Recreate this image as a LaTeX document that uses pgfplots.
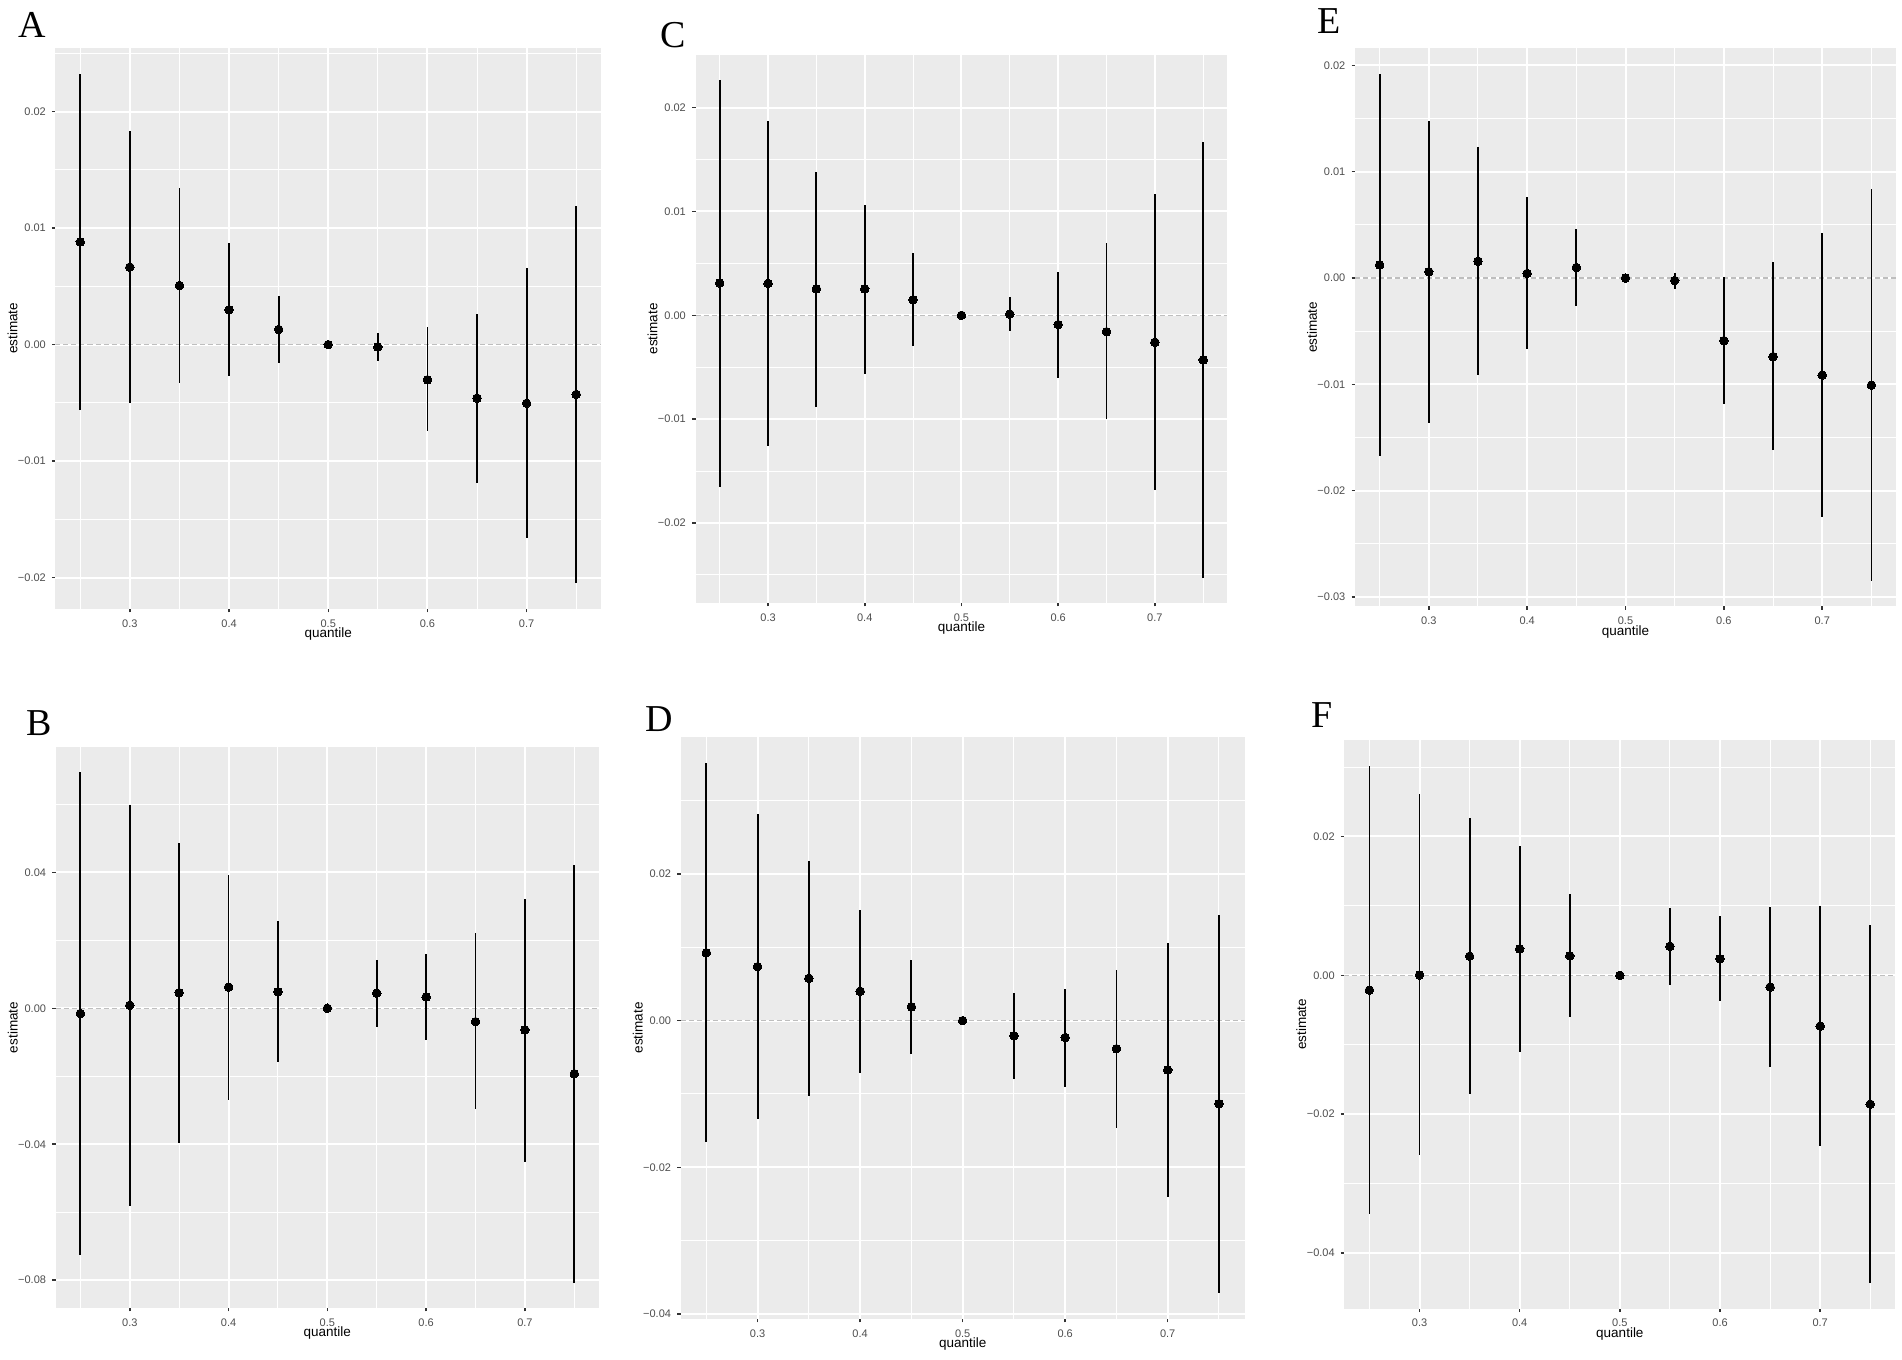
\documentclass[border=0pt]{standalone}
\usepackage{pgfplots}
\pgfplotsset{compat=1.18}
\usepackage{pgfplotstable}
\usepackage{fontspec}
\setmainfont{Liberation Sans}
\newfontfamily\serifletter{Liberation Serif}
\definecolor{ggbg}{HTML}{EBEBEB}
\definecolor{ggtick}{HTML}{333333}
\definecolor{ggtext}{HTML}{4D4D4D}
\definecolor{ggdash}{HTML}{BEBEBE}
\newcommand{\tf}{\fontsize{11}{13}\selectfont}
\newcommand{\labfont}{\fontsize{13.5}{16}\selectfont}

\pgfplotstableread{
q e l h
0.25 0.00881 -0.00565 0.02324
0.30 0.00665 -0.00500 0.01831
0.35 0.00507 -0.00331 0.01345
0.40 0.00299 -0.00270 0.00871
0.45 0.00130 -0.00158 0.00414
0.50 0 0 0
0.55 -0.00020 -0.00144 0.00100
0.60 -0.00302 -0.00745 0.00147
0.65 -0.00460 -0.01190 0.00266
0.70 -0.00504 -0.01658 0.00655
0.75 -0.00428 -0.02050 0.01194
}\tabA
\pgfplotstableread{
q e l h
0.25 0.00311 -0.01650 0.02269
0.30 0.00307 -0.01254 0.01869
0.35 0.00255 -0.00882 0.01383
0.40 0.00255 -0.00562 0.01060
0.45 0.00150 -0.00300 0.00603
0.50 0 0 0
0.55 0.00012 -0.00150 0.00174
0.60 -0.00089 -0.00600 0.00421
0.65 -0.00158 -0.01003 0.00692
0.70 -0.00259 -0.01683 0.01165
0.75 -0.00429 -0.02532 0.01670
}\tabC
\pgfplotstableread{
q e l h
0.25 0.00123 -0.01672 0.01917
0.30 0.00059 -0.01364 0.01478
0.35 0.00158 -0.00913 0.01233
0.40 0.00043 -0.00668 0.00759
0.45 0.00099 -0.00265 0.00458
0.50 0 0 0
0.55 -0.00024 -0.00107 0.00047
0.60 -0.00589 -0.01182 0.00008
0.65 -0.00739 -0.01617 0.00146
0.70 -0.00913 -0.02245 0.00419
0.75 -0.01008 -0.02854 0.00838
}\tabE
\pgfplotstableread{
q e l h
0.25 -0.00153 -0.0726 0.0694
0.30 0.00089 -0.0582 0.0598
0.35 0.00460 -0.0395 0.0487
0.40 0.00625 -0.0270 0.0393
0.45 0.00485 -0.0158 0.0256
0.50 0 0 0
0.55 0.00446 -0.00536 0.01416
0.60 0.00332 -0.00931 0.01594
0.65 -0.00395 -0.0297 0.0221
0.70 -0.00638 -0.0453 0.0323
0.75 -0.01926 -0.0807 0.0423
}\tabB
\pgfplotstableread{
q e l h
0.25 0.00926 -0.01658 0.03510
0.30 0.00737 -0.01339 0.02814
0.35 0.00578 -0.01027 0.02183
0.40 0.00401 -0.00708 0.01504
0.45 0.00189 -0.00454 0.00832
0.50 0 0 0
0.55 -0.00206 -0.00802 0.00383
0.60 -0.00230 -0.00909 0.00437
0.65 -0.00383 -0.01463 0.00696
0.70 -0.00673 -0.02401 0.01056
0.75 -0.01133 -0.03711 0.01445
}\tabD
\pgfplotstableread{
q e l h
0.25 -0.00213 -0.03438 0.03019
0.30 0.00006 -0.02588 0.02606
0.35 0.00275 -0.01713 0.02263
0.40 0.00381 -0.01100 0.01869
0.45 0.00281 -0.00600 0.01175
0.50 0 0 0
0.55 0.00419 -0.00138 0.00975
0.60 0.00238 -0.00375 0.00856
0.65 -0.00169 -0.01313 0.00988
0.70 -0.00731 -0.02456 0.00994
0.75 -0.01856 -0.04431 0.00731
}\tabF

\pgfplotsset{
  ggpanel/.style={
    scale only axis,
    anchor=south west,
    xmin=0.225, xmax=0.775,
    xtick={0.3,0.4,0.5,0.6,0.7},
    xticklabels={\tf 0.3,\tf 0.4,\tf 0.5,\tf 0.6,\tf 0.7},
    minor xtick={0.25,0.35,0.45,0.55,0.65,0.75},
    scaled y ticks=false, scaled x ticks=false,
    axis background/.style={fill=ggbg},
    axis line style={draw=none},
    grid=both,
    major grid style={white, line width=2pt},
    minor grid style={white, line width=1pt},
    tick align=outside,
    tick pos=left,
    major tick length=3.5pt,
    minor tick length=0pt,
    tick style={ggtick, line width=1.5pt},
    every x tick label/.style={font=\tf, text=ggtext, anchor=center, yshift=-11pt, inner sep=0pt},
    every y tick label/.style={font=\tf, text=ggtext, anchor=east, xshift=-6pt, inner sep=0pt},
    xlabel={quantile}, ylabel={estimate},
    every axis x label/.style={font=\labfont, text=black, at={(axis description cs:0.5,0)}, anchor=center, yshift=-25.5pt},
    every axis y label/.style={font=\labfont, text=black, at={(axis description cs:0,0.5)}, anchor=center, xshift=-43pt, rotate=90},
  },
  zeroline/.style={ggdash, line width=1.1pt, dash pattern=on 5pt off 3pt},
  pr/.style={only marks, mark=*, mark size=4.3pt, black, mark options={fill=black, draw=black, line width=0pt},
    error bars/.cd, y dir=both, y explicit, error mark=none, error bar style={line width=1.8pt, black}},
  table/prt/.style={x=q, y=e, y error plus expr=\thisrow{h}-\thisrow{e}, y error minus expr=\thisrow{e}-\thisrow{l}},
}

\begin{document}
\begin{tikzpicture}[x=1pt,y=1pt]
\path[use as bounding box] (0,0) rectangle (1902,1359);

% A
\begin{axis}[ggpanel, at={(55.5pt,750pt)}, width=545.5pt, height=561.4pt,
  ymin=-0.0227, ymax=0.0255,
  ytick={-0.02,-0.01,0,0.01,0.02}, yticklabels={\tf −0.02,\tf −0.01,\tf 0.00,\tf 0.01,\tf 0.02},
  minor ytick={-0.015,-0.005,0.005,0.015,0.025}]
\addplot[zeroline] coordinates {(0.225,0) (0.775,0)};
\addplot[pr] table[prt] {\tabA};
\end{axis}

% C
\begin{axis}[ggpanel, at={(695.5pt,756pt)}, width=531.9pt, height=548.3pt,
  ymin=-0.0277, ymax=0.0251,
  ytick={-0.02,-0.01,0,0.01,0.02}, yticklabels={\tf −0.02,\tf −0.01,\tf 0.00,\tf 0.01,\tf 0.02},
  minor ytick={-0.025,-0.015,-0.005,0.005,0.015}]
\addplot[zeroline] coordinates {(0.225,0) (0.775,0)};
\addplot[pr] table[prt] {\tabC};
\end{axis}

% E
\begin{axis}[ggpanel, at={(1355pt,752.5pt)}, width=541pt, height=558.1pt,
  ymin=-0.0309, ymax=0.0216,
  ytick={-0.03,-0.02,-0.01,0,0.01,0.02}, yticklabels={\tf −0.03,\tf −0.02,\tf −0.01,\tf 0.00,\tf 0.01,\tf 0.02},
  minor ytick={-0.025,-0.015,-0.005,0.005,0.015}]
\addplot[zeroline] coordinates {(0.225,0) (0.775,0)};
\addplot[pr] table[prt] {\tabE};
\end{axis}

% B
\begin{axis}[ggpanel, at={(55.7pt,51pt)}, width=543.3pt, height=561pt,
  ymin=-0.0882, ymax=0.0769,
  ytick={-0.08,-0.04,0,0.04}, yticklabels={\tf −0.08,\tf −0.04,\tf 0.00,\tf 0.04},
  minor ytick={-0.06,-0.02,0.02,0.06}]
\addplot[zeroline] coordinates {(0.225,0) (0.775,0)};
\addplot[pr] table[prt] {\tabB};
\end{axis}

% D
\begin{axis}[ggpanel, at={(680.7pt,40pt)}, width=563.9pt, height=582pt,
  ymin=-0.0407, ymax=0.0387,
  ytick={-0.04,-0.02,0,0.02}, yticklabels={\tf −0.04,\tf −0.02,\tf 0.00,\tf 0.02},
  minor ytick={-0.03,-0.01,0.01,0.03}]
\addplot[zeroline] coordinates {(0.225,0) (0.775,0)};
\addplot[pr] table[prt] {\tabD};
\end{axis}

% F
\begin{axis}[ggpanel, at={(1344.4pt,50.4pt)}, width=550.9pt, height=568.6pt,
  ymin=-0.0480, ymax=0.0339,
  ytick={-0.04,-0.02,0,0.02}, yticklabels={\tf −0.04,\tf −0.02,\tf 0.00,\tf 0.02},
  minor ytick={-0.03,-0.01,0.01,0.03}]
\addplot[zeroline] coordinates {(0.225,0) (0.775,0)};
\addplot[pr] table[prt] {\tabF};
\end{axis}

\begin{scope}[every node/.style={anchor=base west, inner sep=0pt, font=\serifletter\fontsize{38}{40}\selectfont}]
\node at (18,1321) {A};
\node at (660,1311) {C};
\node at (1317,1325) {E};
\node at (26,623) {B};
\node at (645,627) {D};
\node at (1311,631) {F};
\end{scope}
\end{tikzpicture}
\end{document}
